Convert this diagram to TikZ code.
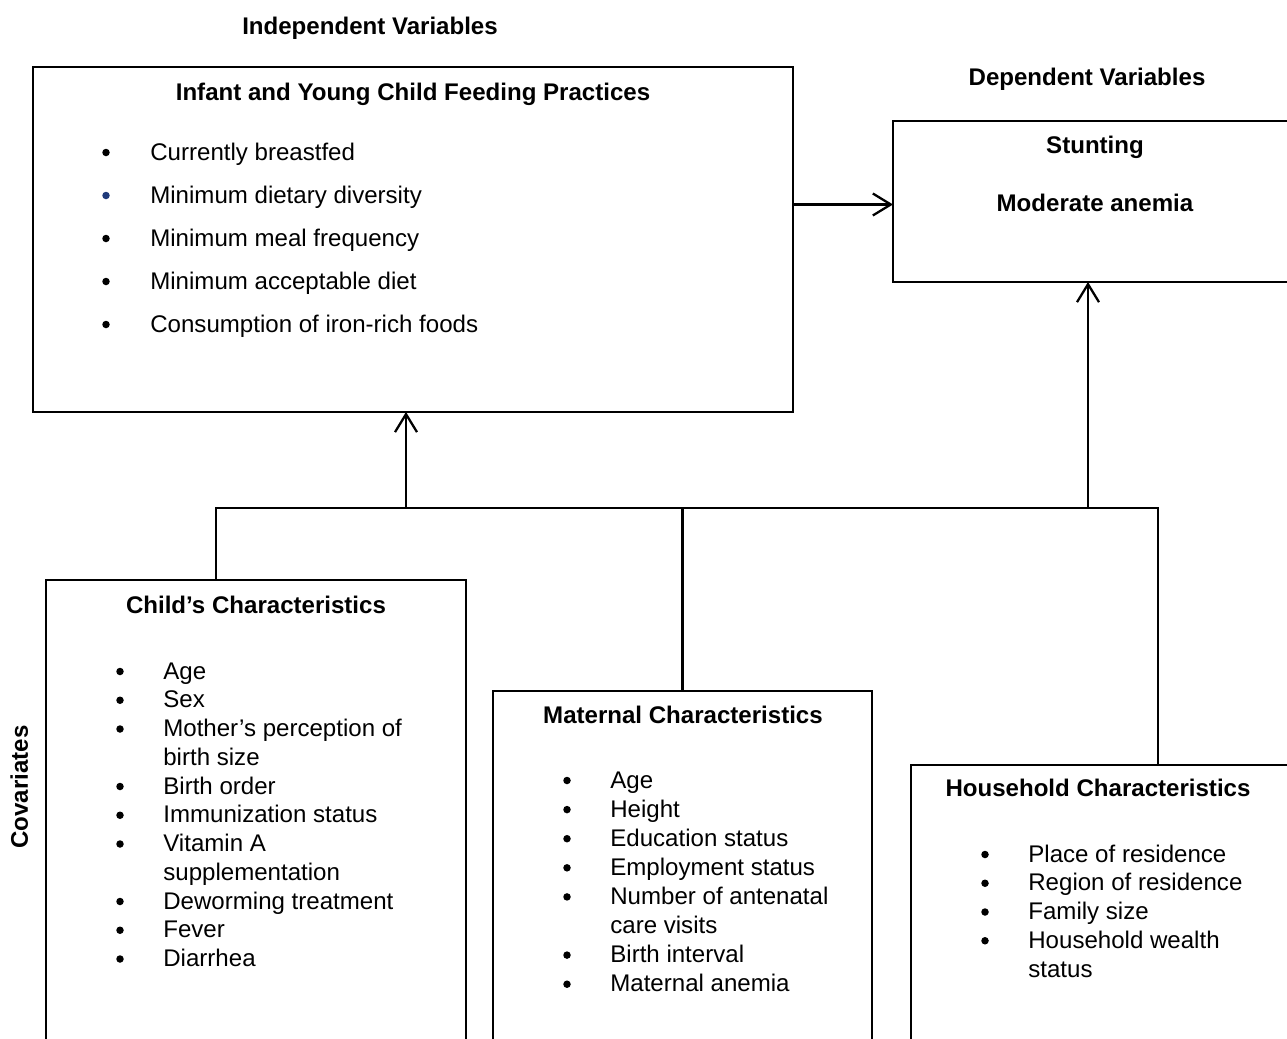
\documentclass[tikz,border=0pt]{standalone}
\usepackage{fontspec}
\setmainfont{Liberation Sans}
\usetikzlibrary{arrows.meta}
\definecolor{bulletblue}{HTML}{1F3A7A}

\begin{document}
\begin{tikzpicture}[x=0.02cm, y=-0.02cm,
    box/.style={draw, line width=1.3pt, inner sep=0pt, outer sep=0pt, anchor=north west},
    head/.style={font=\fontsize{13.7}{16}\selectfont\bfseries, anchor=base, inner sep=0pt},
    item/.style={font=\fontsize{13.7}{16}\selectfont, anchor=base west, inner sep=0pt},
    bul/.style={circle, fill=#1, inner sep=0pt, minimum size=0.15cm},
    bul/.default=black,
    link/.style={line width=1.3pt},
    arrow/.style={-{Straight Barb[length=0.36cm, width=0.44cm]}, line width=1.3pt}
]
% --- frame ---
\useasboundingbox (0,0) rectangle (1287,1038);
\clip (0,0) rectangle (1287,1038);

% --- headings ---
\node[head] (indep) at (370,34) {Independent Variables};
\node[head] (dep) at (1087,85) {Dependent Variables};
\node[head, rotate=90] (cov) at (28,787) {Covariates};

% --- boxes ---
\node[box, minimum width=15.2cm, minimum height=6.9cm] (iycf) at (33,67) {};
\node[box, minimum width=8.14cm, minimum height=3.22cm] (outcome) at (893,121) {};
\node[box, minimum width=8.4cm, minimum height=10cm] (child) at (46,580) {};
\node[box, minimum width=7.58cm, minimum height=10cm] (maternal) at (493,691) {};
\node[box, minimum width=7.78cm, minimum height=10cm] (household) at (911,765) {};

% --- titles ---
\node[head] (iycfT) at (413,100) {Infant and Young Child Feeding Practices};
\node[head] (stunt) at (1095,153) {Stunting};
\node[head] (anem) at (1095,211) {Moderate anemia};
\node[head] (childT) at (256,613) {Child’s Characteristics};
\node[head] (matT) at (683,723) {Maternal Characteristics};
\node[head] (hhT) at (1098,796) {Household Characteristics};

% --- lists ---
\foreach \txt/\c [count=\i from 0] in {Currently breastfed/black, Minimum dietary diversity/bulletblue,
    Minimum meal frequency/black, Minimum acceptable diet/black, Consumption of iron-rich foods/black}{
  \node[item] (iy\i) at (150,160+43*\i) {\txt};
  \node[bul=\c] (iyb\i) at (106,152.5+43*\i) {};
}
\foreach \txt/\b [count=\i from 0] in {Age/1, Sex/1, Mother’s perception of/1, birth size/0, Birth order/1,
    Immunization status/1, Vitamin A/1, supplementation/0, Deworming treatment/1, Fever/1, Diarrhea/1}{
  \node[item] (ch\i) at (163,679+28.75*\i) {\txt};
  \ifnum\b=1 \node[bul] (chb\i) at (120,671.5+28.75*\i) {};\fi
}
\foreach \txt/\b [count=\i from 0] in {Age/1, Height/1, Education status/1, Employment status/1,
    Number of antenatal/1, care visits/0, Birth interval/1, Maternal anemia/1}{
  \node[item] (ma\i) at (610,788+29.1*\i) {\txt};
  \ifnum\b=1 \node[bul] (mab\i) at (567,780.5+29.1*\i) {};\fi
}
\foreach \txt/\b [count=\i from 0] in {Place of residence/1, Region of residence/1, Family size/1,
    Household wealth/1, status/0}{
  \node[item] (hh\i) at (1028,862+28.75*\i) {\txt};
  \ifnum\b=1 \node[bul] (hhb\i) at (985,854.5+28.75*\i) {};\fi
}

% --- connectors ---
\coordinate (busL) at (216,508);
\coordinate (busR) at (1158,508);
\coordinate (upL) at (406,508);
\coordinate (upR) at (1088,508);
\draw[link] (busL |- child.north) -- (busL) -- (busR) -- (busR |- household.north);
\draw[link] (maternal.north |- busL) -- (maternal.north);
\draw[arrow] (upL) -- (upL |- iycf.south);
\draw[arrow] (upR) -- (upR |- outcome.south);
\draw[arrow] ([yshift=-0.06cm]iycf.east |- outcome.west) -- ([yshift=-0.06cm]outcome.west);

\end{tikzpicture}
\end{document}
